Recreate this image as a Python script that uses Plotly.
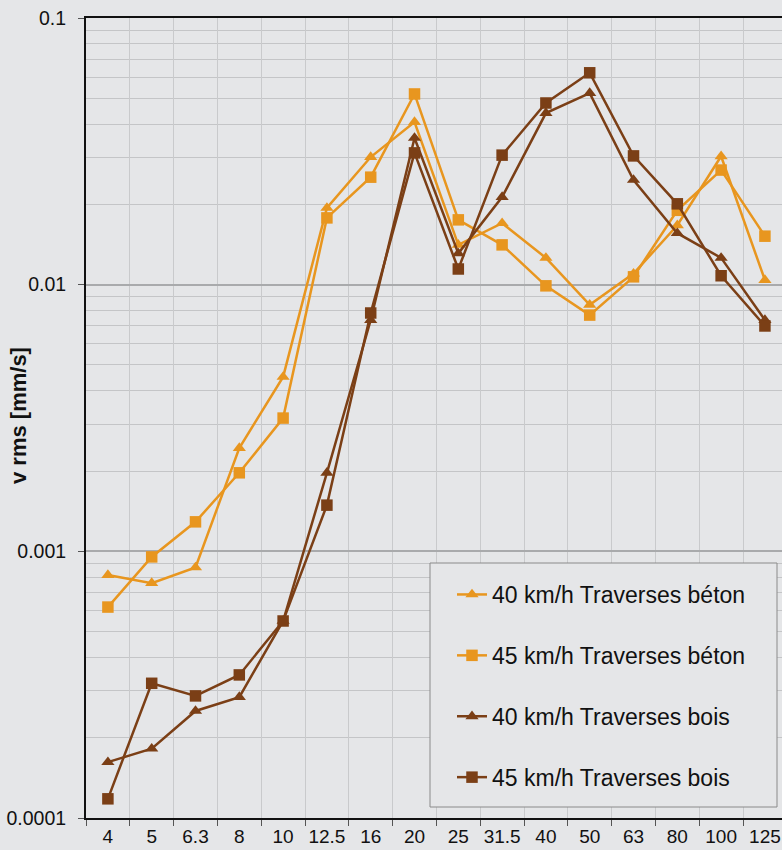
import plotly.graph_objects as go

categories = ["4", "5", "6.3", "8", "10", "12.5", "16", "20", "25", "31.5", "40", "50", "63", "80", "100", "125"]

beton_40 = [0.000815, 0.00076, 0.00087, 0.00244, 0.00451, 0.0194, 0.0301, 0.0407, 0.0141, 0.0170, 0.0126, 0.0084, 0.0110, 0.0167, 0.0303, 0.0104]
beton_45 = [0.000618, 0.000953, 0.00129, 0.00197, 0.00316, 0.0178, 0.0253, 0.0519, 0.0175, 0.0141, 0.0099, 0.00769, 0.0107, 0.0190, 0.0269, 0.0152]
bois_40 = [0.000162, 0.000182, 0.000252, 0.000284, 0.000548, 0.00197, 0.00737, 0.0355, 0.0131, 0.0213, 0.0440, 0.0523, 0.0247, 0.0156, 0.0126, 0.00737]
bois_45 = [0.000118, 0.00032, 0.000287, 0.000344, 0.000548, 0.00149, 0.00783, 0.0312, 0.01145, 0.0306, 0.0480, 0.0623, 0.0304, 0.0201, 0.0108, 0.0070]

series_names = ["40 km/h Traverses béton", "45 km/h Traverses béton", "40 km/h Traverses bois", "45 km/h Traverses bois"]
y_tick_vals = [0.0001, 0.001, 0.01, 0.1]
y_tick_text = ["0.0001", "0.001", "0.01", "0.1"]

ORANGE = "#E8961F"
BROWN = "#7B3F16"
BG = "#E5E6E8"
FONT = "Liberation Sans, Arial, sans-serif"

W, H = 782, 850
L, T, B = 86, 18, 32
PW = W - L
PH = H - T - B

def px_x(p):
    return (p - L) / PW

def px_y(p):
    return (H - B - p) / PH

fig = go.Figure()
styles = [
    (beton_40, ORANGE, "triangle-up"),
    (beton_45, ORANGE, "square"),
    (bois_40, BROWN, "triangle-up"),
    (bois_45, BROWN, "square"),
]
for i, (vals, col, sym) in enumerate(styles):
    fig.add_trace(go.Scatter(
        x=categories, y=vals, mode="lines+markers", name=series_names[i],
        legendgroup=f"g{i}",
        line=dict(color=col, width=2.5),
        marker=dict(symbol=sym, size=11.5, color=col),
    ))

minor_vals = [k * 10 ** e for e in range(-4, -1) for k in range(2, 10)]

fig.update_layout(
    width=W, height=H,
    margin=dict(l=L, r=0, t=T, b=B),
    paper_bgcolor=BG, plot_bgcolor=BG,
    font=dict(family=FONT, size=18, color="#111111"),
    showlegend=True,
    legend=dict(
        x=px_x(452), y=px_y(573), xanchor="left", yanchor="top",
        bgcolor="rgba(0,0,0,0)", borderwidth=0,
        font=dict(size=23, family=FONT, color="#111111"),
        traceorder="grouped", tracegroupgap=28,
        itemwidth=30,
    ),
    xaxis=dict(
        type="category", categoryorder="array", categoryarray=categories,
        range=[-0.5, 15.39], automargin=False,
        tickson="boundaries", ticks="outside", ticklen=6, tickcolor="#555555",
        tickangle=0,
        showgrid=True, gridcolor="#C9CACC", gridwidth=1,
        showline=True, linecolor="#111111", linewidth=2, mirror=True,
        tickfont=dict(size=19, family=FONT, color="#111111"),
        zeroline=False,
    ),
    yaxis=dict(
        type="log", range=[-4, -1], automargin=False,
        tickmode="array", tickvals=y_tick_vals, ticktext=y_tick_text,
        ticks="outside", ticklen=6, tickcolor="#555555",
        ticklabelstandoff=8,
        showgrid=True, gridcolor="#A9AAAC", gridwidth=1.5,
        showline=True, linecolor="#111111", linewidth=2,
        tickfont=dict(size=19.5, family=FONT, color="#111111"),
        minor=dict(tickmode="array", tickvals=minor_vals, showgrid=True,
                   gridcolor="#C4C5C7", gridwidth=1, ticks=""),
        zeroline=False,
    ),
    shapes=[dict(
        type="rect", xref="paper", yref="paper",
        x0=px_x(430), x1=px_x(777), y0=px_y(807), y1=px_y(563),
        line=dict(color="#8A8A8A", width=1), fillcolor=BG, layer="above",
    )],
    annotations=[dict(
        text="<b>v rms [mm/s]</b>", xref="paper", yref="paper",
        x=px_x(18), y=px_y(416), xanchor="center", yanchor="middle",
        textangle=-90, showarrow=False,
        font=dict(size=22, family=FONT, color="#111111"),
    )],
)

fig.write_html(
    "out.html",
    config={"displayModeBar": False},
    post_script="document.body.style.margin='0';document.body.style.background='" + BG + "';",
)
